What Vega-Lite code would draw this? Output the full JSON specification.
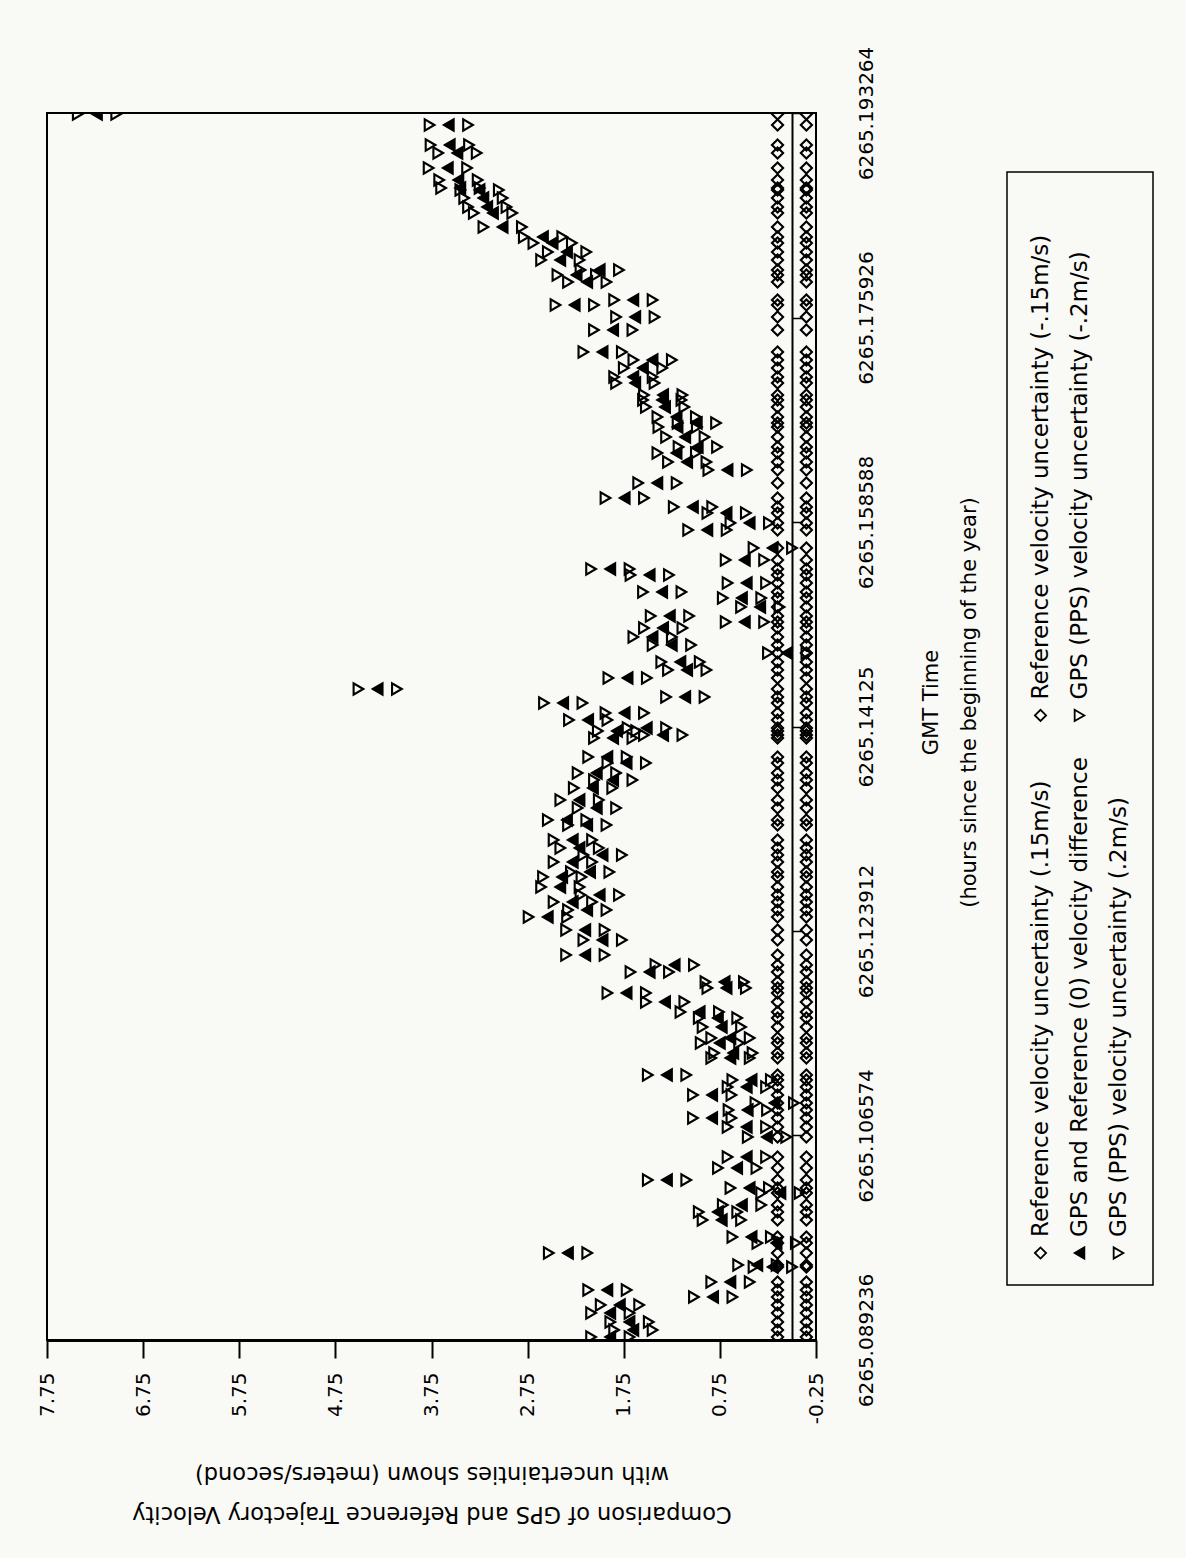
{
  "$schema": "https://vega.github.io/schema/vega-lite/v6.json",
  "width": 769,
  "height": 1227,
  "autosize": {"type": "none"},
  "padding": {"left": 47, "top": 113, "right": 370, "bottom": 218},
  "background": "#f9f9f5",
  "data": {"values": [
    {"t":6265.08949,"d":1.89,"hi":2.09,"lo":1.69,"rp":0.15,"rm":-0.15},
    {"t":6265.090084,"d":1.65,"hi":1.85,"lo":1.45,"rp":0.15,"rm":-0.15},
    {"t":6265.090762,"d":1.69,"hi":1.89,"lo":1.49,"rp":0.15,"rm":-0.15},
    {"t":6265.091525,"d":1.89,"hi":2.09,"lo":1.69,"rp":0.15,"rm":-0.15},
    {"t":6265.092203,"d":1.79,"hi":1.99,"lo":1.59,"rp":0.15,"rm":-0.15},
    {"t":6265.092882,"d":0.82,"hi":1.02,"lo":0.62,"rp":0.15,"rm":-0.15},
    {"t":6265.093475,"d":1.92,"hi":2.12,"lo":1.72,"rp":0.15,"rm":-0.15},
    {"t":6265.094153,"d":0.64,"hi":0.84,"lo":0.44,"rp":0.15,"rm":-0.15},
    {"t":6265.095425,"d":0.20,"hi":0.40,"lo":0.00,"rp":0.15,"rm":-0.15},
    {"t":6265.095595,"d":0.36,"hi":0.56,"lo":0.16,"rp":0.15,"rm":-0.15},
    {"t":6265.096612,"d":2.33,"hi":2.53,"lo":2.13,"rp":0.15,"rm":-0.15},
    {"t":6265.09746,"d":0.16,"hi":0.36,"lo":-0.04,"rp":0.15,"rm":-0.15},
    {"t":6265.097969,"d":0.42,"hi":0.62,"lo":0.22,"rp":0.15,"rm":-0.15},
    {"t":6265.09941,"d":0.73,"hi":0.93,"lo":0.53,"rp":0.15,"rm":-0.15},
    {"t":6265.100088,"d":0.77,"hi":0.97,"lo":0.57,"rp":0.15,"rm":-0.15},
    {"t":6265.100682,"d":0.52,"hi":0.72,"lo":0.32,"rp":0.15,"rm":-0.15},
    {"t":6265.101699,"d":0.12,"hi":0.32,"lo":-0.08,"rp":0.15,"rm":-0.15},
    {"t":6265.102123,"d":0.44,"hi":0.64,"lo":0.24,"rp":0.15,"rm":-0.15},
    {"t":6265.102801,"d":1.30,"hi":1.50,"lo":1.10,"rp":0.15,"rm":-0.15},
    {"t":6265.103819,"d":0.57,"hi":0.77,"lo":0.37,"rp":0.15,"rm":-0.15},
    {"t":6265.104751,"d":0.47,"hi":0.67,"lo":0.27,"rp":0.15,"rm":-0.15},
    {"t":6265.106447,"d":0.26,"hi":0.46,"lo":0.06,"rp":0.15,"rm":-0.15},
    {"t":6265.107295,"d":0.47,"hi":0.67,"lo":0.27,"rp":0.15,"rm":-0.15},
    {"t":6265.108058,"d":0.83,"hi":1.03,"lo":0.63,"rp":0.15,"rm":-0.15},
    {"t":6265.108736,"d":0.46,"hi":0.66,"lo":0.26,"rp":0.15,"rm":-0.15},
    {"t":6265.10933,"d":0.18,"hi":0.38,"lo":-0.02,"rp":0.15,"rm":-0.15},
    {"t":6265.110008,"d":0.83,"hi":1.03,"lo":0.63,"rp":0.15,"rm":-0.15},
    {"t":6265.110686,"d":0.47,"hi":0.67,"lo":0.27,"rp":0.15,"rm":-0.15},
    {"t":6265.11128,"d":0.42,"hi":0.62,"lo":0.22,"rp":0.15,"rm":-0.15},
    {"t":6265.111703,"d":1.30,"hi":1.50,"lo":1.10,"rp":0.15,"rm":-0.15},
    {"t":6265.113145,"d":0.64,"hi":0.84,"lo":0.44,"rp":0.15,"rm":-0.15},
    {"t":6265.113569,"d":0.61,"hi":0.81,"lo":0.41,"rp":0.15,"rm":-0.15},
    {"t":6265.114417,"d":0.75,"hi":0.95,"lo":0.55,"rp":0.15,"rm":-0.15},
    {"t":6265.11484,"d":0.64,"hi":0.84,"lo":0.44,"rp":0.15,"rm":-0.15},
    {"t":6265.115773,"d":0.73,"hi":0.93,"lo":0.53,"rp":0.15,"rm":-0.15},
    {"t":6265.116536,"d":0.77,"hi":0.97,"lo":0.57,"rp":0.15,"rm":-0.15},
    {"t":6265.117045,"d":0.96,"hi":1.16,"lo":0.76,"rp":0.15,"rm":-0.15},
    {"t":6265.117893,"d":1.32,"hi":1.52,"lo":1.12,"rp":0.15,"rm":-0.15},
    {"t":6265.118656,"d":1.72,"hi":1.92,"lo":1.52,"rp":0.15,"rm":-0.15},
    {"t":6265.11908,"d":0.68,"hi":0.88,"lo":0.48,"rp":0.15,"rm":-0.15},
    {"t":6265.119588,"d":0.70,"hi":0.90,"lo":0.50,"rp":0.15,"rm":-0.15},
    {"t":6265.120436,"d":1.48,"hi":1.68,"lo":1.28,"rp":0.15,"rm":-0.15},
    {"t":6265.12103,"d":1.22,"hi":1.42,"lo":1.02,"rp":0.15,"rm":-0.15},
    {"t":6265.121877,"d":2.15,"hi":2.35,"lo":1.95,"rp":0.15,"rm":-0.15},
    {"t":6265.123149,"d":1.97,"hi":2.17,"lo":1.77,"rp":0.15,"rm":-0.15},
    {"t":6265.123997,"d":2.15,"hi":2.35,"lo":1.95,"rp":0.15,"rm":-0.15},
    {"t":6265.125099,"d":2.54,"hi":2.74,"lo":2.34,"rp":0.15,"rm":-0.15},
    {"t":6265.125693,"d":2.13,"hi":2.33,"lo":1.93,"rp":0.15,"rm":-0.15},
    {"t":6265.126371,"d":2.28,"hi":2.48,"lo":2.08,"rp":0.15,"rm":-0.15},
    {"t":6265.126964,"d":2.00,"hi":2.20,"lo":1.80,"rp":0.15,"rm":-0.15},
    {"t":6265.127643,"d":2.41,"hi":2.61,"lo":2.21,"rp":0.15,"rm":-0.15},
    {"t":6265.128491,"d":2.39,"hi":2.59,"lo":2.19,"rp":0.15,"rm":-0.15},
    {"t":6265.128914,"d":2.10,"hi":2.30,"lo":1.90,"rp":0.15,"rm":-0.15},
    {"t":6265.129762,"d":2.28,"hi":2.48,"lo":2.08,"rp":0.15,"rm":-0.15},
    {"t":6265.130356,"d":1.97,"hi":2.17,"lo":1.77,"rp":0.15,"rm":-0.15},
    {"t":6265.130949,"d":2.21,"hi":2.41,"lo":2.01,"rp":0.15,"rm":-0.15},
    {"t":6265.131628,"d":2.28,"hi":2.48,"lo":2.08,"rp":0.15,"rm":-0.15},
    {"t":6265.132899,"d":2.13,"hi":2.33,"lo":1.93,"rp":0.15,"rm":-0.15},
    {"t":6265.133323,"d":2.34,"hi":2.54,"lo":2.14,"rp":0.15,"rm":-0.15},
    {"t":6265.134341,"d":2.03,"hi":2.23,"lo":1.83,"rp":0.15,"rm":-0.15},
    {"t":6265.135019,"d":2.21,"hi":2.41,"lo":2.01,"rp":0.15,"rm":-0.15},
    {"t":6265.136036,"d":2.07,"hi":2.27,"lo":1.87,"rp":0.15,"rm":-0.15},
    {"t":6265.136714,"d":1.86,"hi":2.06,"lo":1.66,"rp":0.15,"rm":-0.15},
    {"t":6265.137308,"d":2.03,"hi":2.23,"lo":1.83,"rp":0.15,"rm":-0.15},
    {"t":6265.138156,"d":1.72,"hi":1.92,"lo":1.52,"rp":0.15,"rm":-0.15},
    {"t":6265.138664,"d":1.92,"hi":2.12,"lo":1.72,"rp":0.15,"rm":-0.15},
    {"t":6265.140275,"d":1.86,"hi":2.06,"lo":1.66,"rp":0.15,"rm":-0.15},
    {"t":6265.14053,"d":1.34,"hi":1.54,"lo":1.14,"rp":0.15,"rm":-0.15},
    {"t":6265.140869,"d":1.82,"hi":2.02,"lo":1.62,"rp":0.15,"rm":-0.15},
    {"t":6265.141123,"d":1.51,"hi":1.71,"lo":1.31,"rp":0.15,"rm":-0.15},
    {"t":6265.141801,"d":2.12,"hi":2.32,"lo":1.92,"rp":0.15,"rm":-0.15},
    {"t":6265.142395,"d":1.74,"hi":1.94,"lo":1.54,"rp":0.15,"rm":-0.15},
    {"t":6265.143243,"d":2.38,"hi":2.58,"lo":2.18,"rp":0.15,"rm":-0.15},
    {"t":6265.143751,"d":1.11,"hi":1.31,"lo":0.91,"rp":0.15,"rm":-0.15},
    {"t":6265.14443,"d":4.31,"hi":4.51,"lo":4.11,"rp":0.15,"rm":-0.15},
    {"t":6265.145362,"d":1.71,"hi":1.91,"lo":1.51,"rp":0.15,"rm":-0.15},
    {"t":6265.146041,"d":1.09,"hi":1.29,"lo":0.89,"rp":0.15,"rm":-0.15},
    {"t":6265.146719,"d":1.16,"hi":1.36,"lo":0.96,"rp":0.15,"rm":-0.15},
    {"t":6265.147482,"d":0.05,"hi":0.25,"lo":-0.15,"rp":0.15,"rm":-0.15},
    {"t":6265.14816,"d":1.25,"hi":1.45,"lo":1.05,"rp":0.15,"rm":-0.15},
    {"t":6265.148838,"d":1.45,"hi":1.65,"lo":1.25,"rp":0.15,"rm":-0.15},
    {"t":6265.149601,"d":1.34,"hi":1.54,"lo":1.14,"rp":0.15,"rm":-0.15},
    {"t":6265.15011,"d":0.49,"hi":0.69,"lo":0.29,"rp":0.15,"rm":-0.15},
    {"t":6265.150619,"d":1.27,"hi":1.47,"lo":1.07,"rp":0.15,"rm":-0.15},
    {"t":6265.151382,"d":0.33,"hi":0.53,"lo":0.13,"rp":0.15,"rm":-0.15},
    {"t":6265.152145,"d":0.52,"hi":0.72,"lo":0.32,"rp":0.15,"rm":-0.15},
    {"t":6265.152654,"d":1.35,"hi":1.55,"lo":1.15,"rp":0.15,"rm":-0.15},
    {"t":6265.153417,"d":0.47,"hi":0.67,"lo":0.27,"rp":0.15,"rm":-0.15},
    {"t":6265.154095,"d":1.48,"hi":1.68,"lo":1.28,"rp":0.15,"rm":-0.15},
    {"t":6265.154604,"d":1.89,"hi":2.09,"lo":1.69,"rp":0.15,"rm":-0.15},
    {"t":6265.155367,"d":0.49,"hi":0.69,"lo":0.29,"rp":0.15,"rm":-0.15},
    {"t":6265.156384,"d":0.20,"hi":0.40,"lo":0.00,"rp":0.15,"rm":-0.15},
    {"t":6265.15791,"d":0.88,"hi":1.08,"lo":0.68,"rp":0.15,"rm":-0.15},
    {"t":6265.158504,"d":0.44,"hi":0.64,"lo":0.24,"rp":0.15,"rm":-0.15},
    {"t":6265.159352,"d":0.68,"hi":0.88,"lo":0.48,"rp":0.15,"rm":-0.15},
    {"t":6265.15986,"d":1.03,"hi":1.23,"lo":0.83,"rp":0.15,"rm":-0.15},
    {"t":6265.160623,"d":1.74,"hi":1.94,"lo":1.54,"rp":0.15,"rm":-0.15},
    {"t":6265.161895,"d":1.40,"hi":1.60,"lo":1.20,"rp":0.15,"rm":-0.15},
    {"t":6265.162997,"d":0.67,"hi":0.87,"lo":0.47,"rp":0.15,"rm":-0.15},
    {"t":6265.163675,"d":1.09,"hi":1.29,"lo":0.89,"rp":0.15,"rm":-0.15},
    {"t":6265.164439,"d":1.20,"hi":1.40,"lo":1.00,"rp":0.15,"rm":-0.15},
    {"t":6265.164947,"d":0.98,"hi":1.18,"lo":0.78,"rp":0.15,"rm":-0.15},
    {"t":6265.165795,"d":1.11,"hi":1.31,"lo":0.91,"rp":0.15,"rm":-0.15},
    {"t":6265.166643,"d":1.19,"hi":1.39,"lo":0.99,"rp":0.15,"rm":-0.15},
    {"t":6265.166982,"d":0.99,"hi":1.19,"lo":0.79,"rp":0.15,"rm":-0.15},
    {"t":6265.167491,"d":1.20,"hi":1.40,"lo":1.00,"rp":0.15,"rm":-0.15},
    {"t":6265.168339,"d":1.32,"hi":1.52,"lo":1.12,"rp":0.15,"rm":-0.15},
    {"t":6265.168932,"d":1.35,"hi":1.55,"lo":1.15,"rp":0.15,"rm":-0.15},
    {"t":6265.169356,"d":1.34,"hi":1.54,"lo":1.14,"rp":0.15,"rm":-0.15},
    {"t":6265.170373,"d":1.63,"hi":1.83,"lo":1.43,"rp":0.15,"rm":-0.15},
    {"t":6265.170882,"d":1.65,"hi":1.85,"lo":1.45,"rp":0.15,"rm":-0.15},
    {"t":6265.171645,"d":1.55,"hi":1.75,"lo":1.35,"rp":0.15,"rm":-0.15},
    {"t":6265.172323,"d":1.45,"hi":1.65,"lo":1.25,"rp":0.15,"rm":-0.15},
    {"t":6265.173002,"d":1.97,"hi":2.17,"lo":1.77,"rp":0.15,"rm":-0.15},
    {"t":6265.174867,"d":1.86,"hi":2.06,"lo":1.66,"rp":0.15,"rm":-0.15},
    {"t":6265.175969,"d":1.63,"hi":1.83,"lo":1.43,"rp":0.15,"rm":-0.15},
    {"t":6265.176986,"d":2.26,"hi":2.46,"lo":2.06,"rp":0.15,"rm":-0.15},
    {"t":6265.17741,"d":1.65,"hi":1.85,"lo":1.45,"rp":0.15,"rm":-0.15},
    {"t":6265.178936,"d":2.13,"hi":2.33,"lo":1.93,"rp":0.15,"rm":-0.15},
    {"t":6265.17953,"d":2.24,"hi":2.44,"lo":2.04,"rp":0.15,"rm":-0.15},
    {"t":6265.179954,"d":2.00,"hi":2.20,"lo":1.80,"rp":0.15,"rm":-0.15},
    {"t":6265.180802,"d":2.41,"hi":2.61,"lo":2.21,"rp":0.15,"rm":-0.15},
    {"t":6265.18148,"d":2.34,"hi":2.54,"lo":2.14,"rp":0.15,"rm":-0.15},
    {"t":6265.182243,"d":2.49,"hi":2.69,"lo":2.29,"rp":0.15,"rm":-0.15},
    {"t":6265.182752,"d":2.59,"hi":2.79,"lo":2.39,"rp":0.15,"rm":-0.15},
    {"t":6265.183599,"d":3.01,"hi":3.21,"lo":2.81,"rp":0.15,"rm":-0.15},
    {"t":6265.184786,"d":3.11,"hi":3.31,"lo":2.91,"rp":0.15,"rm":-0.15},
    {"t":6265.185295,"d":3.17,"hi":3.37,"lo":2.97,"rp":0.15,"rm":-0.15},
    {"t":6265.186058,"d":3.21,"hi":3.41,"lo":3.01,"rp":0.15,"rm":-0.15},
    {"t":6265.186736,"d":3.25,"hi":3.45,"lo":3.05,"rp":0.15,"rm":-0.15},
    {"t":6265.186906,"d":3.45,"hi":3.65,"lo":3.25,"rp":0.15,"rm":-0.15},
    {"t":6265.187584,"d":3.47,"hi":3.67,"lo":3.27,"rp":0.15,"rm":-0.15},
    {"t":6265.188602,"d":3.58,"hi":3.78,"lo":3.38,"rp":0.15,"rm":-0.15},
    {"t":6265.189873,"d":3.48,"hi":3.68,"lo":3.28,"rp":0.15,"rm":-0.15},
    {"t":6265.190552,"d":3.56,"hi":3.76,"lo":3.36,"rp":0.15,"rm":-0.15},
    {"t":6265.192247,"d":3.57,"hi":3.77,"lo":3.37,"rp":0.15,"rm":-0.15},
    {"t":6265.19318,"d":7.23,"hi":7.43,"lo":7.03,"rp":0.15,"rm":-0.15}
  ]},
  "transform": [{"fold": ["rm", "rp", "lo", "d", "hi"], "as": ["series", "v"]}],
  "mark": {"type": "point", "filled": true, "stroke": "black", "strokeWidth": 2.1, "opacity": 1, "clip": true},
  "encoding": {
    "x": {
      "field": "v", "type": "quantitative",
      "scale": {"domain": [-0.25, 7.75], "reverse": true, "nice": false, "zero": false},
      "axis": {
        "orient": "bottom",
        "values": [-0.25, 0.75, 1.75, 2.75, 3.75, 4.75, 5.75, 6.75, 7.75],
        "format": ".2f",
        "labelExpr": "replace(datum.label, '\u2212', '-')",
        "labelAngle": 270, "labelAlign": "right", "labelBaseline": "middle",
        "labelFontSize": 20, "labelPadding": 14, "labelFlush": false, "labelOverlap": false,
        "tickSize": 18, "tickWidth": 2, "domainWidth": 3,
        "title": ["Comparison of GPS and Reference Trajectory Velocity", "with uncertainties shown (meters/second)"],
        "titleAngle": 180, "titleFontSize": 22.5, "titleBaseline": "top", "titleAlign": "center",
        "titleLineHeight": 40, "titleX": 384.5, "titleY": 184
      }
    },
    "y": {
      "field": "t", "type": "quantitative",
      "scale": {"domain": [6265.089236, 6265.193264], "nice": false, "zero": false},
      "axis": {
        "orient": "right", "offset": -24,
        "values": [6265.089236, 6265.106574, 6265.123912, 6265.14125, 6265.158588, 6265.175926, 6265.193264],
        "format": ".6~f",
        "labelAngle": 270, "labelAlign": "center", "labelBaseline": "top",
        "labelFontSize": 20, "labelPadding": 54, "labelFlush": false, "labelOverlap": false,
        "tickSize": 10, "tickWidth": 1.5, "domainWidth": 2,
        "title": ["GMT Time", "(hours since the beginning of the year)"],
        "titleAngle": 270, "titleBaseline": "top", "titleAlign": "center",
        "titleFontSize": 21, "titleLineHeight": 38, "titleX": 128, "titleY": 589
      }
    },
    "shape": {
      "field": "series", "type": "nominal",
      "scale": {"domain": ["rm", "rp", "lo", "d", "blank", "hi"],
                "range": ["diamond", "diamond", "triangle-right", "triangle-left", "M0,0", "triangle-right"]},
      "legend": {
        "title": null, "orient": "none", "legendX": 960, "legendY": 59,
        "direction": "vertical", "columns": 3,
        "padding": 22, "rowPadding": 7, "columnPadding": 15,
        "strokeColor": "black",
        "labelFont": "DejaVu Sans", "labelFontSize": 23, "labelColor": "black", "labelLimit": 3000,
        "labelOffset": -11.5, "labelAlign": "left", "labelBaseline": "middle",
        "symbolStrokeColor": "black", "symbolStrokeWidth": 1.8,
        "labelExpr": "datum.label == 'rm' ? 'Reference velocity uncertainty (-.15m/s)' : datum.label == 'rp' ? 'Reference velocity uncertainty (.15m/s)' : datum.label == 'lo' ? 'GPS (PPS) velocity uncertainty (-.2m/s)' : datum.label == 'd' ? 'GPS and Reference (0) velocity difference' : datum.label == 'hi' ? 'GPS (PPS) velocity uncertainty (.2m/s)' : ''",
        "encoding": {
          "labels": {"angle": {"value": 270}, "y": {"value": 505}},
          "symbols": {"y": {"value": 521}, "stroke": {"value": "black"}, "strokeWidth": {"value": 1.8}},
          "legend": {"strokeWidth": {"value": 1.5}}
        }
      }
    },
    "fill": {
      "field": "series", "type": "nominal",
      "scale": {"domain": ["rm", "rp", "lo", "d", "blank", "hi"],
                "range": ["transparent", "transparent", "transparent", "black", "transparent", "transparent"]}
    },
    "size": {
      "field": "series", "type": "nominal",
      "scale": {"domain": ["rm", "rp", "lo", "d", "blank", "hi"],
                "range": [125, 125, 180, 135, 0, 180]}
    }
  },
  "config": {
    "font": "DejaVu Sans",
    "view": {"stroke": "black", "strokeWidth": 2},
    "axis": {"grid": false, "domainColor": "black", "tickColor": "black", "labelColor": "black",
             "titleColor": "black", "labelFont": "DejaVu Sans", "titleFont": "DejaVu Sans", "titleFontWeight": "normal"}
  }
}
